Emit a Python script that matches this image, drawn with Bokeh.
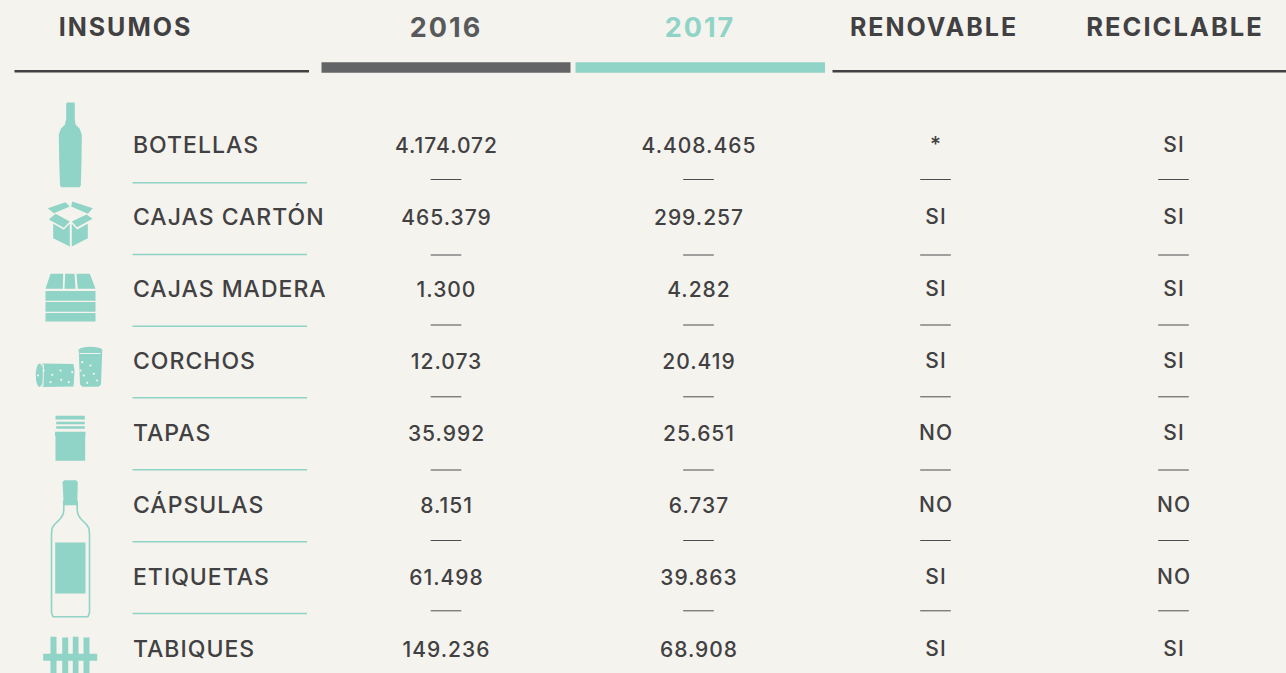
from bokeh.plotting import figure
from bokeh.layouts import column
from bokeh.models import Range1d
from bokeh.core.properties import value
from bokeh.embed import file_html
from bokeh.resources import INLINE

# ---------- data ----------
insumos = ["BOTELLAS", "CAJAS CARTÓN", "CAJAS MADERA", "CORCHOS", "TAPAS", "CÁPSULAS", "ETIQUETAS", "TABIQUES"]
valores_2016 = ["4.174.072", "465.379", "1.300", "12.073", "35.992", "8.151", "61.498", "149.236"]
valores_2017 = ["4.408.465", "299.257", "4.282", "20.419", "25.651", "6.737", "39.863", "68.908"]
renovable = ["*", "SI", "SI", "SI", "NO", "NO", "SI", "SI"]
reciclable = ["SI", "SI", "SI", "SI", "SI", "NO", "NO", "SI"]
encabezados = ["INSUMOS", "2016", "2017", "RENOVABLE", "RECICLABLE"]

# ---------- style / layout ----------
BG, DARK, GREY, TEAL = "#f5f3ed", "#414042", "#636466", "#90d3c7"
W, H, HEAD = 1286, 673, 80
HEAD_SP, BODY_SP = 2, 1
row_y = [145 + 72 * i for i in range(len(insumos))]
col_x = {"2016": 445.5, "2017": 698, "ren": 935, "rec": 1173}


def make_fig(top, bottom, spacing):
    f = figure(width=W, height=bottom - top, x_range=Range1d(0, W), y_range=Range1d(bottom, top),
               x_axis_type=None, y_axis_type=None, toolbar_location=None,
               output_backend="svg", min_border=0, outline_line_color=None,
               background_fill_color=BG, border_fill_color=BG)
    f.grid.visible = False
    f.styles = {"letter-spacing": f"{spacing}px"}
    return f


head = make_fig(0, HEAD, HEAD_SP)
p = make_fig(HEAD, H, BODY_SP)


def txt(fig, cx, ys, labels, size, sp, color=DARK, align="center", style="normal", font="Inter Medium"):
    # Bokeh centres on the untracked width, so take half of the tracking back
    xs = [cx - (sp * (len(t) - 1) / 2 if align == "center" else 0) for t in labels]
    fig.text(x=xs, y=ys, text=labels, text_font=value(font), text_font_size=size,
             text_color=color, text_align=align, text_baseline="middle",
             text_font_style=style)


# ---------- header ----------
for x, label, size, color in zip([124, 444.5, 698.5, 932.5, 1173.5], encabezados,
                                 ["25px", "27px", "27px", "25px", "25.5px"],
                                 [DARK, "#58595b", TEAL, DARK, DARK]):
    txt(head, x, [26], [label], size, HEAD_SP, color, style="bold", font="Inter")
head.segment([14, 832], [70.8, 70.8], [308.5, 1286], [70.8, 70.8], line_color=DARK, line_width=2.5)
head.quad(left=[321], right=[570], top=[61.7], bottom=[72.3], fill_color=GREY, line_color=None)
head.quad(left=[575], right=[824.5], top=[61.7], bottom=[72.3], fill_color=TEAL, line_color=None)

# ---------- rows ----------
label_y = [y - .3 for y in row_y]
value_y = [y - 1 for y in row_y]
txt(p, 132.5, label_y, insumos, "23px", BODY_SP, align="left")
txt(p, col_x["2016"], value_y, valores_2016, "21px", BODY_SP)
txt(p, col_x["2017"], value_y, valores_2017, "21px", BODY_SP)
txt(p, col_x["ren"], value_y, renovable, "21px", BODY_SP)
txt(p, col_x["rec"], value_y, reciclable, "21px", BODY_SP)

teal_y = [182.3, 254, 325.7, 397.3, 469.3, 541.3, 613]
p.segment([132] * 7, teal_y, [306.5] * 7, teal_y, line_color=TEAL, line_width=1.5)
dash_y = [179, 254.5, 324.5, 396.3, 469.5, 540, 610.3]
for cx in col_x.values():
    p.segment([cx - 15.3] * 7, dash_y, [cx + 15.3] * 7, dash_y, line_color="#4d4d4f", line_width=1)

# ---------- icons ----------
shapes = [
    # bottle
    [(65.7, 103), (66.5, 102), (73.5, 102), (74.3, 103), (74.3, 118), (75, 124), (79, 128), (81.3, 134),
     (81, 160), (80.3, 185), (79, 186.8), (61, 186.8), (59.5, 185), (58.7, 160), (58.3, 134), (60.5, 128),
     (64.5, 124), (65.7, 118)],
    # open box
    [(47.3, 207.7), (65, 201.7), (69.3, 206), (53.3, 212.7)],
    [(71.7, 201), (92.3, 207.7), (87.3, 213.3), (70.7, 206)],
    [(48.3, 219), (55, 213.3), (69.3, 221), (63.3, 227.3)],
    [(71.3, 221), (86, 214), (92, 218.3), (76.7, 226.7)],
    [(52.7, 223.3), (63.3, 229.3), (69.3, 223.3), (69.3, 246), (52.7, 237.7)],
    [(71.3, 223.3), (76.7, 229), (87.3, 223.3), (87.3, 237.7), (71.3, 246)],
    # crate
    [(50, 273.3), (62.7, 273.3), (62.3, 288.3), (45, 288.3)],
    [(64.7, 273.3), (74, 273.3), (75, 288.3), (64, 288.3)],
    [(76, 273.3), (89.3, 273.3), (95, 288.3), (77.3, 288.3)],
    [(45, 290.5), (95, 290.5), (95, 300.3), (45, 300.3)],
    [(45, 301.5), (95, 301.5), (95, 311.2), (45, 311.2)],
    [(45, 312.4), (95, 312.4), (95, 321), (45, 321)],
    # corks
    [(42, 363), (73, 363.5), (74, 370), (73, 386), (42, 386.5)],
    [(78.3, 351), (101.7, 351), (100.5, 384), (98, 386.3), (82, 386.3), (79.5, 384)],
    # screw cap
    [(55, 415.3), (84.3, 415.3), (84.3, 419), (55, 419)],
    [(55.7, 421.3), (84.3, 421.3), (84.3, 423.7), (55.7, 423.7)],
    [(55.7, 425.7), (84.3, 425.7), (84.3, 428.3), (55.7, 428.3)],
    [(54.5, 431.3), (85, 431.3), (85, 435.3), (84.7, 435.5), (84.7, 460.3), (55, 460.3), (55, 435.5), (54.5, 435.3)],
    # capsule and label
    [(62, 482), (63.5, 479.7), (75.8, 479.7), (77.3, 482), (76.7, 504.7), (63.3, 504.7)],
    [(54.7, 542), (85, 542), (85, 593), (54.7, 593)],
    # tally
    [(50, 636.3), (56, 636.3), (56, 675), (50, 675)],
    [(61.7, 637), (67.7, 637), (67.7, 675), (61.7, 675)],
    [(72.3, 636.3), (78, 636.3), (78, 675), (72.3, 675)],
    [(83, 637), (89, 637), (89, 675), (83, 675)],
    [(42.7, 653.3), (96.7, 653.3), (96.7, 660.3), (42.7, 660.3)],
]
p.patches([[c[0] for c in s] for s in shapes], [[c[1] for c in s] for s in shapes],
          fill_color=TEAL, line_color=None)

# cork ends and speckles
p.ellipse(x=[39], y=[374.7], width=[7.5], height=[23.5], fill_color=TEAL, line_color=None)
p.ellipse(x=[90], y=[350], width=[24], height=[7.5], fill_color=TEAL, line_color=None)
p.segment([43], [364], [42.5], [386], line_color=BG, line_width=1)
p.segment([79], [353], [100], [353], line_color=BG, line_width=1)
sp_x = [51.7, 60, 50, 60.7, 68.3, 71.7, 43.3, 81.7, 93.3, 90, 96.7, 86.7, 83.3, 80, 37.5]
sp_y = [374.3, 370, 381.7, 379.3, 381.7, 371.7, 370, 361.7, 373.3, 365, 380, 382.3, 375, 370, 375]
p.scatter(sp_x, sp_y, size=2.2, marker="circle", fill_color=BG, line_color=None)

# empty wine bottle outline
bx = [63.3, 63.3, 62.5, 60, 54, 51.5, 51, 51, 52.5, 87.5, 89, 89, 88.5, 86, 80, 77.5, 76.7, 76.7]
by = [500, 510, 514, 518, 524, 528, 534, 612, 616.3, 616.3, 612, 534, 528, 524, 518, 514, 510, 500]
p.line(bx, by, line_color=TEAL, line_width=1.6)

layout = column(head, p, spacing=0)
html = file_html(layout, INLINE)
html = html.replace("<head>", f"<head><style>html,body{{background:{BG}}}</style>", 1)
open("out.html", "w").write(html)
